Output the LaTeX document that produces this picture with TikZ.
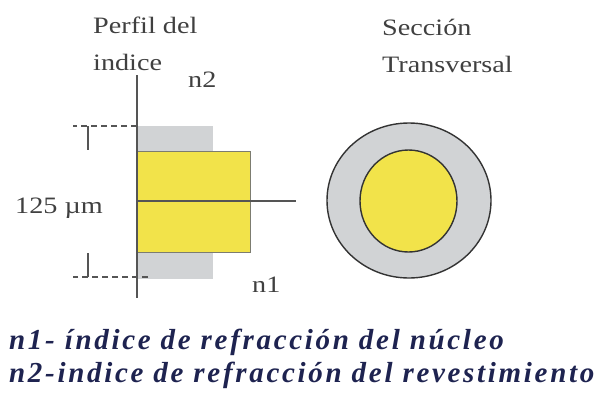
\documentclass[tikz,border=0pt]{standalone}
\usepackage{fontspec}
\setmainfont{Liberation Serif}[FakeStretch=1.2]
\newfontfamily\notefont{Liberation Serif}[LetterSpace=9.3]
\usetikzlibrary{calc}
\usetikzlibrary{positioning}

\definecolor{cladding}{HTML}{D1D3D5}
\definecolor{core}{HTML}{F2E34A}
\definecolor{axisgray}{HTML}{555555}
\definecolor{rimgray}{HTML}{7C7C70}
\definecolor{notecolor}{HTML}{1E2350}

\begin{document}
\begin{tikzpicture} [x = 1pt, y = -1pt,
    label/.style = {text = black!75, inner sep = 0, font = \fontsize{23.5}{37}\selectfont},
    note/.style = {text = notecolor, inner sep = 0, anchor = base west,
        font = \notefont\bfseries\itshape\fontsize{29}{33}\selectfont},
    mark line/.style = {axisgray, line width = 1.6pt, dash pattern = on 6pt off 4pt}]

\useasboundingbox (0,0) rectangle (597,392);

\coordinate (top) at (137,126);
\coordinate (bot) at (137,277);
\coordinate (centre) at (409,200.5);

% cladding profile
\fill [cladding] (137,126) rectangle (213,279);

% core profile
\filldraw [fill = core, draw = rimgray, line width = 1pt] (137,151) rectangle (250,252);

% axes
\draw [axisgray, line width = 2.2pt] (137,75) -- (137,298);
\draw [axisgray, line width = 2.2pt] (137,201) -- (296,201);

% diameter marks
\draw [mark line] (top) -- ++(-64,0);
\draw [mark line] ($(bot) + (11,0)$) -- ++(-75,0);
\draw [axisgray, line width = 2pt] (88,126) -- (88,150);
\draw [axisgray, line width = 2pt] (88,253) -- (88,277);

% cross section
\filldraw [fill = cladding, draw = black!80, line width = 1.4pt] (centre) ellipse [x radius = 82, y radius = 77.5];
\filldraw [fill = core, draw = black!80, line width = 1.4pt] (408.5,201) ellipse [x radius = 48.5, y radius = 51];

% labels
\node (profile) [label, anchor = base west, align = left] at (93,70) {Perfil del\\indice};
\node (section) [label, anchor = base west, align = left] at (382,72) {Sección\\Transversal};
\node (d) [label, anchor = base west] at (15,213) {125 µm};
\node (n2) [label, anchor = base west] at (188,87) {n2};
\node (n1) [label, anchor = base west] at (252,292) {n1};

% legend
\node (N1) [note] at (9,349) {n1- índice de refracción del núcleo};
\node (N2) [note] at (9,382) {n2-indice de refracción del revestimiento};

\end{tikzpicture}
\end{document}
